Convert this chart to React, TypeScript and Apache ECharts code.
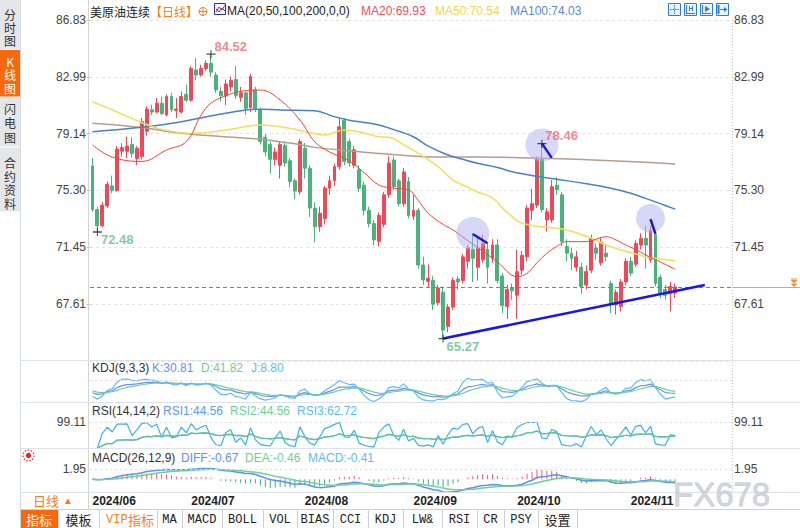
import React, { useEffect, useRef } from 'react';
import * as echarts from 'echarts';

// ---------------- data ----------------
// daily sessions 2024-06-03 .. 2024-11-14 (119 candles)
const openP = [76.95, 74.0, 72.9, 74.25, 75.6, 75.3, 77.95, 77.95, 78.4, 77.45,
  77.6, 79.3, 80.75, 80.6, 81.2, 80.4, 81.65, 80.7, 80.6, 81.8,
  81.4, 83.45, 83.1, 83.55, 83.9, 83.1, 82.0, 81.7, 82.3, 82.8,
  81.6, 81.9, 80.9, 82.1, 80.75, 78.9, 78.4, 77.4, 77.0, 78.35,
  77.3, 75.95, 75.2, 78.15, 76.8, 74.1, 72.85, 73.4, 75.45, 75.95,
  76.9, 80.05, 78.6, 77.0, 76.7, 75.65, 73.95, 73.05, 71.85, 73.0,
  75.0, 77.35, 75.95, 74.4, 75.9, 73.55, 73.95, 70.25, 69.15, 69.2,
  67.7, 68.4, 66.1, 67.4, 69.3, 69.2, 70.5, 71.3, 70.1, 70.6,
  71.3, 70.7, 71.6, 69.5, 67.45, 68.7, 68.2, 69.9, 70.8, 73.95,
  74.3, 77.4, 73.3, 73.3, 75.65, 75.0, 71.5, 71.05, 70.1, 70.1,
  68.9, 69.9, 71.4, 70.4, 71.05, 69.0, 67.55, 67.45, 69.1, 70.5,
  70.3, 71.6, 72.05, 70.6, 72.3, 69.4, 68.6, 68.3, 68.35];
const closeP = [74.0, 72.9, 74.3, 75.7, 75.3, 78.1, 78.2, 78.3, 77.8, 78.15,
  79.95, 80.8, 80.6, 81.2, 80.5, 81.65, 80.75, 80.8, 81.65, 81.4,
  83.55, 83.1, 83.55, 83.9, 83.3, 82.1, 81.7, 82.5, 82.75, 81.7,
  81.9, 80.85, 83.0, 80.85, 78.6, 77.9, 77.4, 77.9, 78.4, 77.15,
  75.9, 75.25, 78.6, 76.8, 74.1, 72.85, 73.75, 75.45, 75.95, 76.9,
  79.6, 77.25, 77.15, 78.05, 75.45, 73.95, 73.05, 71.95, 73.6, 75.0,
  77.15, 75.55, 74.4, 76.55, 73.6, 73.95, 70.25, 69.25, 69.35, 67.6,
  68.7, 65.85, 67.4, 69.2, 69.1, 70.8, 71.4, 70.7, 71.4, 71.7,
  70.1, 71.6, 69.2, 67.5, 68.6, 68.5, 69.8, 70.9, 74.1, 74.4,
  77.4, 74.0, 73.85, 75.55, 75.35, 71.85, 71.05, 70.7, 70.8, 68.8,
  69.8, 72.05, 71.05, 71.8, 70.8, 67.65, 68.4, 69.1, 70.5, 69.7,
  71.7, 72.05, 71.6, 72.6, 69.0, 68.3, 68.2, 68.8, 68.76];
const lowP = [73.85, 72.48, 72.8, 74.1, 75.1, 75.2, 77.6, 77.5, 77.5, 77.0,
  77.4, 79.0, 80.4, 80.5, 80.4, 80.3, 80.6, 80.2, 80.5, 81.3,
  81.3, 82.75, 83.0, 83.4, 83.0, 81.9, 81.3, 81.05, 82.0, 81.5,
  81.3, 80.4, 80.6, 80.6, 78.4, 77.6, 76.45, 77.0, 76.1, 76.9,
  75.5, 74.7, 75.0, 76.1, 73.5, 71.8, 72.5, 73.0, 75.0, 75.6,
  76.7, 77.0, 76.9, 76.8, 75.2, 73.6, 72.8, 71.6, 71.5, 72.8,
  74.8, 75.3, 74.2, 74.2, 73.4, 73.3, 70.0, 68.9, 68.7, 67.2,
  67.5, 65.27, 65.7, 67.2, 68.6, 69.0, 70.0, 69.1, 69.2, 70.4,
  69.0, 70.4, 69.0, 67.0, 66.6, 67.9, 66.6, 69.6, 70.5, 73.3,
  74.1, 73.8, 72.5, 73.1, 75.0, 71.5, 70.5, 69.9, 69.8, 68.3,
  68.6, 69.7, 70.6, 70.2, 70.5, 67.0, 66.9, 67.1, 68.9, 69.5,
  70.1, 71.3, 70.0, 70.4, 68.8, 68.0, 67.9, 67.1, 68.0];
const highP = [77.5, 74.2, 74.5, 75.9, 76.3, 78.3, 78.5, 78.95, 78.9, 78.3,
  80.2, 81.0, 81.1, 81.55, 81.65, 81.8, 81.9, 81.55, 82.0, 82.45,
  83.7, 84.25, 83.8, 84.1, 84.52, 83.3, 82.3, 82.8, 83.0, 83.7,
  82.3, 82.0, 83.2, 82.3, 80.9, 79.1, 78.6, 78.2, 78.6, 78.6,
  77.5, 76.1, 78.8, 78.5, 77.0, 74.5, 74.2, 75.6, 76.3, 77.1,
  80.2, 80.2, 78.8, 78.3, 77.0, 75.9, 74.2, 73.3, 73.8, 75.2,
  77.6, 77.6, 76.1, 76.8, 76.2, 75.0, 74.1, 70.8, 70.3, 69.5,
  68.9, 68.8, 67.6, 69.4, 69.5, 71.0, 71.6, 72.4, 72.2, 72.3,
  71.7, 72.0, 72.0, 69.7, 68.9, 69.0, 71.3, 71.2, 74.3, 75.4,
  77.6, 78.46, 74.1, 76.0, 76.2, 75.2, 72.0, 71.4, 71.2, 70.4,
  70.2, 72.3, 71.7, 72.1, 71.6, 69.2, 68.6, 69.3, 70.7, 70.8,
  71.9, 72.4, 72.9, 72.9, 72.5, 69.6, 68.9, 69.1, 69.0];

const SLOT_COUNT = 130; // 119 sessions + empty room on the right
const monthStartIdx = [0, 20, 43, 65, 86, 109];
const monthLabels = ['2024/06', '2024/07', '2024/08', '2024/09', '2024/10', '2024/11'];

const priceMin = 63.766;
const priceMax = 86.83;
const priceStep = 3.844;
const lastPrice = 68.76;

// moving averages: [session index, value]
const ma20Pts = [[0, 78.37], [4, 77.55], [10, 77.26], [15, 78.03], [19, 78.6], [22, 80.4], [24, 81.2], [27, 81.7], [30, 82.0], [34, 82.09], [38, 81.42], [42, 80.06], [45, 78.6], [48, 77.9], [52, 77.3], [55, 76.5], [58, 75.66], [61, 75.45], [64, 75.33], [66, 74.6], [68, 73.75], [71, 73.0], [73, 72.62], [76, 71.9], [79, 71.2], [82, 70.45], [86, 69.46], [88, 69.69], [90, 70.4], [92, 71.04], [94, 71.5], [96, 71.83], [100, 71.83], [104, 72.16], [106, 71.95], [108, 71.6], [110, 71.3], [112, 70.93], [115, 70.45], [118, 69.96]];
const ma50Pts = [[0, 81.3], [5, 80.6], [10, 79.88], [14, 79.43], [20, 79.16], [24, 79.25], [28, 79.43], [34, 79.72], [38, 79.6], [41, 79.43], [44, 79.2], [47, 79.05], [51, 79.39], [54, 79.27], [58, 78.93], [60, 78.9], [63, 78.4], [66, 77.81], [70, 76.9], [73, 76.0], [76, 75.5], [78, 75.19], [81, 74.8], [83, 74.1], [85, 73.52], [87, 73.07], [91, 72.84], [96, 72.62], [101, 72.06], [104, 71.6], [107, 71.26], [110, 71.0], [112, 70.81], [115, 70.65], [118, 70.54]];
const ma100Pts = [[0, 79.27], [10, 79.57], [18, 79.95], [25, 80.4], [31, 80.74], [34, 80.79], [38, 80.74], [45, 80.69], [49, 80.29], [52, 80.05], [55, 79.9], [58, 79.72], [62, 79.3], [65, 78.93], [68, 78.3], [72, 77.69], [75, 77.4], [78, 77.13], [82, 76.85], [85, 76.56], [90, 76.25], [94, 76.05], [100, 75.75], [105, 75.44], [109, 75.1], [112, 74.76], [115, 74.4], [118, 74.03]];
const ma200Pts = [[0, 79.84], [10, 79.55], [18, 79.16], [26, 78.95], [34, 78.76], [40, 78.5], [45, 78.21], [52, 77.98], [58, 77.8], [64, 77.65], [70, 77.55], [78, 77.56], [85, 77.52], [91, 77.47], [98, 77.4], [105, 77.31], [112, 77.2], [118, 77.08]];

// drawn annotations (data coordinates)
const trendLinePts = [[71, 65.27], [124, 68.9]];
const slashSegs = [[[77, 72.35], [80, 71.72]], [[91, 78.48], [93, 77.5]], [[113, 73.35], [114, 72.35]]];
const circleIdx = [77, 91, 113];
const circleVal = [72.39, 78.37, 73.41];
const extremeIdx = [24, 91, 1, 71];
const extremeVal = [84.52, 78.46, 72.48, 65.27];
const extremeIsHigh = [true, true, false, false];

// legend texts as shown
const headerTitle = '美原油连续';
const maLegend = ['MA20:69.93', 'MA50:70.54', 'MA100:74.03'];
const kdjLegend = ['K:30.81', 'D:41.82', 'J:8.80'];
const rsiLegend = ['RSI1:44.56', 'RSI2:44.56', 'RSI3:62.72'];
const macdLegend = ['DIFF:-0.67', 'DEA:-0.46', 'MACD:-0.41'];
const sideTabs = ['分\n时\n图', 'K\n线\n图', '闪\n电\n图', '合\n约\n资\n料'];

// ---------------- indicators derived from the candles ----------------
function emaOf(src: number[], n: number) {
  const k = 2 / (n + 1);
  const out: number[] = [];
  src.forEach((v, i) => out.push(i === 0 ? v : out[i - 1] + k * (v - out[i - 1])));
  return out;
}
const ema12 = emaOf(closeP, 12);
const ema26 = emaOf(closeP, 26);
const diffS = closeP.map((_, i) => ema12[i] - ema26[i]);
const deaS = emaOf(diffS, 9);
const macdS = diffS.map((d, i) => 2 * (d - deaS[i]));

function rsiOf(n: number) {
  let up = 0, all = 0;
  const out: any[] = [];
  closeP.forEach((c, i) => {
    if (i === 0) { out.push('-'); return; }
    const d = c - closeP[i - 1];
    if (i === 1) { up = Math.max(d, 0); all = Math.abs(d); }
    else { up = (Math.max(d, 0) + (n - 1) * up) / n; all = (Math.abs(d) + (n - 1) * all) / n; }
    out.push(all === 0 ? 50 : (up / all) * 100);
  });
  return out;
}
const rsi1 = rsiOf(14);
const rsi2 = rsiOf(14);
const rsi3 = rsiOf(2);

const kS: number[] = [], dS: number[] = [], jS: number[] = [];
(() => {
  let k = 50, d = 50;
  closeP.forEach((c, i) => {
    const from = Math.max(0, i - 8);
    const lo = Math.min(...lowP.slice(from, i + 1));
    const hi = Math.max(...highP.slice(from, i + 1));
    const rsv = hi === lo ? 50 : ((c - lo) / (hi - lo)) * 100;
    k = (2 * k + rsv) / 3;
    d = (2 * d + k) / 3;
    kS.push(k); dS.push(d); jS.push(3 * k - 2 * d);
  });
})();

// ---------------- styling ----------------
const LAT = '"Liberation Sans", Arial, "Noto Sans CJK SC", sans-serif';
const CJK = '"Noto Sans CJK SC", "Liberation Sans", sans-serif';
const MONO = '"Liberation Mono", "DejaVu Sans Mono", monospace';
const UP = '#ec4a5a';
const DOWN = '#4cb27c';
const ORANGE = '#f0821e';

const cats = Array.from({ length: SLOT_COUNT }, (_, i) => String(i));

function xAxisFor(gi: number, withLabels = false) {
  return {
    type: 'category', gridIndex: gi, data: cats, boundaryGap: true,
    axisLine: { show: false }, axisTick: { show: false }, splitLine: { show: false },
    axisLabel: withLabels ? {
      show: true,
      interval: (index: number) => monthStartIdx.indexOf(index) >= 0,
      formatter: (_v: string, index: number) => {
        const k = monthStartIdx.indexOf(index);
        return k >= 0 ? monthLabels[k] : '';
      },
      align: 'left', margin: 2, fontSize: 12, fontWeight: 'bold', color: '#222', fontFamily: LAT,
    } : { show: false },
  };
}

function buildOption() {
  const lineS = (data: any, color: string, width: number, xi: number, yi: number, extra: any = {}) => ({
    type: 'line', data, xAxisIndex: xi, yAxisIndex: yi, showSymbol: false, symbol: 'none',
    lineStyle: { color, width }, itemStyle: { color }, silent: true, z: 4, ...extra,
  });
  const dotted = (value: number) => ({
    silent: true, symbol: ['none', 'none'], label: { show: false },
    lineStyle: { color: '#dcdcdc', type: [2, 3], width: 1 }, data: [{ yAxis: value }],
  });

  return {
    animation: false,
    backgroundColor: '#ffffff',
    textStyle: { fontFamily: LAT },
    grid: [
      { left: 90, right: 68, top: 20, height: (priceMax - priceMin) * 14.776 },
      { left: 90, right: 68, top: 377, height: 25 },
      { left: 90, right: 68, top: 422, height: 26 },
      { left: 90, right: 68, top: 462, height: 31 },
    ],
    xAxis: [xAxisFor(0), xAxisFor(1), xAxisFor(2), xAxisFor(3, true)],
    yAxis: [
      {
        type: 'value', gridIndex: 0, position: 'left', min: priceMin, max: priceMax, interval: priceStep,
        axisLine: { show: false }, axisTick: { show: true, length: 3, lineStyle: { color: '#b8b8b8' } },
        axisLabel: { showMinLabel: false, formatter: (v: number) => v.toFixed(2), color: '#444', fontSize: 12, margin: 4 },
        splitLine: { show: true, lineStyle: { color: '#e2e2e2', type: [3, 3] } },
      },
      {
        type: 'value', gridIndex: 0, position: 'right', min: priceMin, max: priceMax, interval: priceStep,
        axisLine: { show: false }, axisTick: { show: false },
        axisLabel: { showMinLabel: false, formatter: (v: number) => v.toFixed(2), color: '#444', fontSize: 12, margin: 2 },
        splitLine: { show: false },
      },
      { type: 'value', gridIndex: 1, min: -15, max: 120, show: false, splitLine: { show: false } },
      {
        type: 'value', gridIndex: 2, position: 'left', min: 0, max: 99.11, interval: 99.11,
        axisLine: { show: false }, axisTick: { show: false }, splitLine: { show: false },
        axisLabel: { showMinLabel: false, formatter: (v: number) => v.toFixed(2), color: '#444', fontSize: 12, margin: 4 },
      },
      {
        type: 'value', gridIndex: 2, position: 'right', min: 0, max: 99.11, interval: 99.11,
        axisLine: { show: false }, axisTick: { show: false }, splitLine: { show: false },
        axisLabel: { showMinLabel: false, formatter: (v: number) => v.toFixed(2), color: '#444', fontSize: 12, margin: 2 },
      },
      {
        type: 'value', gridIndex: 3, position: 'left', min: -2.6, max: 3.28, interval: 0.65,
        axisLine: { show: false }, axisTick: { show: false }, splitLine: { show: false },
        axisLabel: { formatter: (v: number) => (Math.abs(v - 1.95) < 0.01 ? '1.95' : ''), color: '#444', fontSize: 12, margin: 4 },
      },
      {
        type: 'value', gridIndex: 3, position: 'right', min: -2.6, max: 3.28, interval: 0.65,
        axisLine: { show: false }, axisTick: { show: false }, splitLine: { show: false },
        axisLabel: { formatter: (v: number) => (Math.abs(v - 1.95) < 0.01 ? '1.95' : ''), color: '#444', fontSize: 12, margin: 2 },
      },
    ],
    series: [
      {
        type: 'candlestick', xAxisIndex: 0, yAxisIndex: 0, barWidth: 3.4, z: 3,
        data: openP.map((o, i) => [o, closeP[i], lowP[i], highP[i]]),
        itemStyle: { color: UP, color0: DOWN, borderColor: UP, borderColor0: DOWN, borderWidth: 1 },
        markLine: {
          silent: true, symbol: ['none', 'none'], label: { show: false },
          lineStyle: { color: '#3d8ef0', type: [4, 3], width: 1 }, data: [{ yAxis: lastPrice }],
        },
      },
      lineS(ma200Pts, '#b99c8e', 1.5, 0, 0, { smooth: 0.4 }),
      lineS(ma100Pts, '#4a80c8', 1.5, 0, 0, { smooth: 0.4 }),
      lineS(ma50Pts, '#f3df55', 1.5, 0, 0, { smooth: 0.4 }),
      lineS(ma20Pts, '#f0453a', 1, 0, 0, { smooth: 0.4 }),
      {
        type: 'scatter', xAxisIndex: 0, yAxisIndex: 0, silent: true, z: 5,
        itemStyle: { color: 'rgba(172,172,242,0.6)' },
        data: circleIdx.map((x, i) => ({ value: [x, circleVal[i]], symbolSize: i === 2 ? 29 : 33 })),
      },
      lineS(trendLinePts, '#1616f0', 2.5, 0, 0, { z: 6 }),
      ...slashSegs.map((seg) => lineS(seg, '#1a1ad0', 2.5, 0, 0, { z: 6 })),
      {
        type: 'scatter', xAxisIndex: 0, yAxisIndex: 0, silent: true, z: 7,
        symbol: 'path://M0 4H10V5.2H0Z M4.4 1H5.6V8.2H4.4Z', symbolSize: [9, 8],
        itemStyle: { color: '#222' },
        data: extremeIdx.map((x, i) => ({
          value: [x, extremeVal[i]],
          label: {
            show: true, formatter: extremeVal[i].toFixed(2),
            position: extremeIsHigh[i] ? [8, -4] : [8, 11.5],
            align: 'left', verticalAlign: 'middle',
            color: extremeIsHigh[i] ? '#ef6a72' : '#5cc08e', fontSize: 13, fontWeight: 'bold', fontFamily: LAT,
          },
        })),
      },
      // KDJ
      lineS(kS, '#6e8ef0', 1.2, 1, 2, { markLine: dotted(100) }),
      lineS(dS, '#6fd093', 1.2, 1, 2),
      lineS(jS, '#5cbcf0', 1.2, 1, 2),
      // RSI
      lineS(rsi1, '#5b9bf0', 1.2, 2, 3, { markLine: dotted(99.11) }),
      lineS(rsi3, '#3fb0e6', 1.2, 2, 3),
      lineS(rsi2, '#5cc98a', 1.2, 2, 3),
      // MACD
      {
        type: 'bar', xAxisIndex: 3, yAxisIndex: 5, barWidth: 1, silent: true, z: 3,
        data: macdS.map((v) => ({ value: v, itemStyle: { color: v >= 0 ? '#f0606e' : '#3fae78' } })),
      },
      lineS(diffS, '#5b8ff9', 1.5, 3, 5, { markLine: dotted(1.95) }),
      lineS(deaS, '#6fd093', 1.5, 3, 5),
    ],
  };
}

// ---------------- page chrome ----------------
const T = (x: number, y: number, text: string, fill: string, size = 12, family = LAT, align = 'left', weight = 'normal', z = 50, extra: any = {}) => ({
  type: 'text', x, y, z, silent: true,
  style: { text, fill, fontSize: size, fontFamily: family, fontWeight: weight, align, verticalAlign: 'middle', ...extra },
});
const R = (x: number, y: number, w: number, h: number, fill: string, stroke = 'none', z = 1) => ({
  type: 'rect', z, silent: true, shape: { x, y, width: w, height: h }, style: { fill, stroke, lineWidth: 1 },
});
const L = (x1: number, y1: number, x2: number, y2: number, stroke: string, dash: any = null, z = 5, w = 1) => ({
  type: 'line', z, silent: true, shape: { x1, y1, x2, y2 }, style: { stroke, lineWidth: w, lineDash: dash },
});
const P = (points: number[][], fill: string, z = 60) => ({ type: 'polygon', z, silent: true, shape: { points }, style: { fill } });

function buildChrome(priceY: number) {
  const els: any[] = [];
  const GRAY = '#e4e6ea';
  const BORDER = '#d6d9de';
  // sidebar tabs
  els.push(R(0, 0, 20, 49, GRAY), R(0, 50, 20, 46.5, '#f8680c'), R(0, 97.5, 20, 49, GRAY), R(0, 147.5, 20, 64, GRAY));
  els.push(L(20.5, 0, 20.5, 528, BORDER));
  const tabCenter = [27, 74.5, 122.5, 183];
  const tabLine = [13, 13.5, 14.5, 13.4];
  sideTabs.forEach((t, i) => els.push(T(10, tabCenter[i], t, i === 1 ? '#fff' : '#333', 12, CJK, 'center', 'normal', 50, { lineHeight: tabLine[i] })));

  // frame lines
  els.push(L(88.5, 0, 88.5, 509, '#d4d4d4'));
  els.push(L(732.5, 20, 732.5, 492, '#bdbdbd', [1, 2]));
  [360.5, 402.5, 448.5, 492.5].forEach((y) => els.push(L(20, y, 800, y, '#dfe2e6', null, 8)));

  // header
  els.push(T(90, 11, headerTitle, '#222', 12, CJK));
  els.push(T(150, 11, '【日线】', ORANGE, 12, CJK));
  els.push({ type: 'circle', z: 50, silent: true, shape: { cx: 203, cy: 11.5, r: 4 }, style: { fill: 'none', stroke: ORANGE, lineWidth: 1 } });
  els.push(L(199, 11.5, 207, 11.5, ORANGE, null, 50), L(203, 7.5, 203, 15.5, ORANGE, null, 50));
  els.push(R(214.5, 3.5, 11, 11, '#f3f5ff', '#28349a', 50));
  els.push({ type: 'polyline', z: 51, silent: true, shape: { points: [[216, 12], [219, 7], [222, 10], [225, 5]] }, style: { stroke: '#e03030', fill: 'none', lineWidth: 1 } });
  els.push({ type: 'polyline', z: 51, silent: true, shape: { points: [[216, 9], [219, 12], [222, 8], [225, 11]] }, style: { stroke: '#3050d0', fill: 'none', lineWidth: 1 } });
  els.push(T(227, 11, 'MA(20,50,100,200,0,0)', '#222', 12));
  els.push(T(361, 11, maLegend[0], '#f0505a', 12));
  els.push(T(435, 11, maLegend[1], '#f2d64b', 12));
  els.push(T(510, 11, maLegend[2], '#5b8bd0', 12));

  // top-right tool icons
  const IC = '#2a7ed6';
  [668, 684, 700, 716].forEach((x) => els.push(R(x + 0.5, 3.5, 12, 12, '#eaf3fc', IC, 50)));
  els.push(L(670, 9.5, 679, 9.5, IC, [1.5, 1], 51), L(674.5, 5, 674.5, 14, IC, [1.5, 1], 51));
  els.push(L(686.5, 5, 686.5, 14, IC, null, 51), L(686.5, 13.5, 695, 13.5, IC, null, 51), L(689.5, 6, 689.5, 11, IC, null, 51), L(692.5, 6, 692.5, 11, IC, null, 51), L(689.5, 8.5, 692.5, 8.5, IC, null, 51));
  els.push(L(702.5, 5, 702.5, 14, IC, null, 51), L(702.5, 13.5, 711, 13.5, IC, null, 51), P([[705, 6], [705, 12], [710, 9]], IC, 51));
  els.push(L(718.5, 5, 718.5, 14, IC, null, 51, 2), L(720, 9.5, 726, 9.5, IC, null, 51), P([[724, 7], [727.5, 9.5], [724, 12]], IC, 51));

  // sub-pane legends
  els.push(T(92, 368, 'KDJ(9,3,3)', '#333', 12), T(152, 368, kdjLegend[0], '#6e8ef0', 12), T(201, 368, kdjLegend[1], '#6fd093', 12), T(251, 368, kdjLegend[2], '#5cbcf0', 12));
  els.push(T(92, 411, 'RSI(14,14,2)', '#333', 12), T(163, 411, rsiLegend[0], '#5b9bf0', 12), T(230, 411, rsiLegend[1], '#6fd093', 12), T(297, 411, rsiLegend[2], '#5cbcf0', 12));
  els.push(T(92, 458, 'MACD(26,12,9)', '#333', 12), T(181, 458, macdLegend[0], '#5b8ff9', 12), T(245, 458, macdLegend[1], '#6fd093', 12), T(308, 458, macdLegend[2], '#5cbcf0', 12));

  // red sun icon
  els.push({ type: 'circle', z: 50, silent: true, shape: { cx: 28.5, cy: 455.5, r: 2.6 }, style: { fill: '#e02424' } });
  els.push({ type: 'circle', z: 50, silent: true, shape: { cx: 28.5, cy: 455.5, r: 5.5 }, style: { fill: 'none', stroke: '#e02424', lineWidth: 1.2, lineDash: [1.5, 1.6] } });

  // date row left cell
  els.push(T(33, 500.5, '日线', ORANGE, 13, CJK));
  els.push(T(63, 500.5, '▲', ORANGE, 10, LAT));

  // bottom toolbar
  els.push(L(20, 509.5, 800, 509.5, '#cfd3d8', null, 8));
  const cells: [number, number, string, string, string][] = [
    [20, 58, '指标', '#fff', CJK], [58, 99, '模板', '#222', CJK], [99, 157, 'VIP', ORANGE, MONO],
    [157, 182, 'MA', '#222', MONO], [182, 222, 'MACD', '#222', MONO], [222, 263, 'BOLL', '#222', MONO],
    [263, 297, 'VOL', '#222', MONO], [297, 333, 'BIAS', '#222', MONO], [333, 368, 'CCI', '#222', MONO],
    [368, 403, 'KDJ', '#222', MONO], [403, 442, 'LW&', '#222', MONO], [442, 477, 'RSI', '#222', MONO],
    [477, 504, 'CR', '#222', MONO], [504, 538, 'PSY', '#222', MONO], [538, 577, '设置', '#222', CJK],
  ];
  cells.forEach(([x0, x1, label, color, fam], i) => {
    els.push(R(x0 + 0.5, 509.5, x1 - x0, 19, i === 0 ? '#f8680c' : '#ffffff', '#cfcfcf', 9));
    if (label === 'VIP') {
      els.push(T(106, 519.5, 'VIP', color, 12, MONO, 'left', 'normal', 50));
      els.push(T(128, 519.5, '指标', color, 13, CJK, 'left', 'normal', 50));
    } else {
      els.push(T((x0 + x1) / 2, 519.5, label, color, fam === MONO ? 12 : 13, fam, 'center', 'normal', 50));
    }
  });

  // current price extension on the right
  els.push(L(733, priceY, 800, priceY, '#f5a043', null, 60));
  els.push(L(791, priceY - 8.5, 797, priceY - 8.5, '#f39130', null, 60));
  els.push(P([[790.5, priceY - 7.5], [797.5, priceY - 7.5], [794, priceY - 4]], '#f39130'));
  els.push(P([[790.5, priceY - 4], [797.5, priceY - 4], [794, priceY - 0.5]], '#f39130'));

  // watermark
  els.push(T(673, 494, 'FX678', 'rgba(200,205,216,0.8)', 33, LAT, 'left', 'normal', 100, { stroke: 'rgba(176,182,196,0.7)', lineWidth: 0.8 }));
  return els;
}

export default function App() {
  const ref = useRef<HTMLDivElement>(null);
  useEffect(() => {
    const chart = echarts.init(ref.current as HTMLDivElement, undefined, { renderer: 'svg' });
    chart.setOption(buildOption() as any);
    const py = chart.convertToPixel({ yAxisIndex: 0 }, lastPrice) as number;
    chart.setOption({ graphic: { elements: buildChrome(Math.round(py) + 0.5) } } as any);
    return () => chart.dispose();
  }, []);
  return <div ref={ref} style={{ position: 'fixed', left: 0, top: 0, width: 800, height: 528, background: '#fff' }} />;
}
